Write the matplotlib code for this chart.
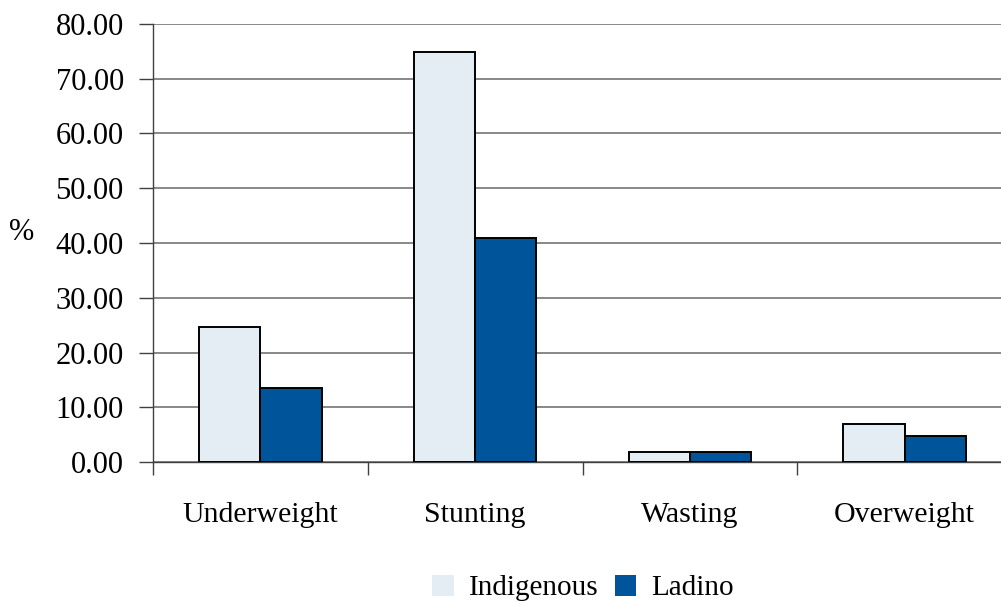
import numpy as np
import matplotlib
matplotlib.use("Agg")
import matplotlib.pyplot as plt
from matplotlib.patches import Patch

# data
categories = ["Underweight", "Stunting", "Wasting", "Overweight"]
indigenous = [24.6, 74.9, 1.9, 7.0]
ladino = [13.6, 40.9, 1.9, 4.8]
y_ticks = [0, 10, 20, 30, 40, 50, 60, 70, 80]

plt.rcParams["font.family"] = ["Liberation Serif", "DejaVu Serif"]

W, H = 1001, 606
fig = plt.figure(figsize=(W / 100, H / 100), dpi=100)
# axes runs past the right edge, like in the original
x0, x1 = 153, 1012
y0, y1 = 462, 24
ax = fig.add_axes([x0 / W, 1 - y0 / H, (x1 - x0) / W, (y0 - y1) / H])

c_ind = "#E4ECF4"
c_lad = "#00559A"
x = np.arange(len(categories))
bw = 0.285
ax.bar(x - bw / 2, indigenous, bw, color=c_ind, edgecolor="black",
       linewidth=1.4, zorder=3)
ax.bar(x + bw / 2, ladino, bw, color=c_lad, edgecolor="black",
       linewidth=1.4, zorder=3)

ax.set_xlim(-0.5, len(categories) - 0.5)
ax.set_ylim(0, 80)
ax.set_yticks(y_ticks)
ax.set_yticklabels([f"{v:.2f}" for v in y_ticks])
ax.yaxis.grid(True, color="#7f7f7f", linewidth=1.3, zorder=0)
ax.set_axisbelow(True)

# category boundaries as x ticks, names in between
ax.set_xticks(np.arange(len(categories) + 1) - 0.5)
ax.set_xticklabels([])
ax.set_xticks(x, minor=True)
ax.set_xticklabels(categories, minor=True)
ax.tick_params(axis="x", which="minor", length=0, pad=29, labelsize=21.5)
ax.tick_params(axis="x", which="major", length=9, width=1, color="#404040")
ax.tick_params(axis="y", length=10, width=1, color="#404040", labelsize=22, pad=11)

for s in ["top", "right"]:
    ax.spines[s].set_visible(False)
for s in ["left", "bottom"]:
    ax.spines[s].set_color("#404040")
    ax.spines[s].set_linewidth(1.0)

fig.text(22 / W, 1 - 233 / H, "%", fontsize=22, ha="center", va="center")

handles = [Patch(facecolor=c_ind, edgecolor="none", label="Indigenous"),
           Patch(facecolor=c_lad, edgecolor="none", label="Ladino")]
fig.legend(handles=handles, loc="center", bbox_to_anchor=(583 / W, 1 - 588 / H),
           ncol=2, frameon=False, fontsize=21, handlelength=0.75, handleheight=0.75,
           handletextpad=0.5, columnspacing=0.55)

fig.savefig("out.png", dpi=100)
